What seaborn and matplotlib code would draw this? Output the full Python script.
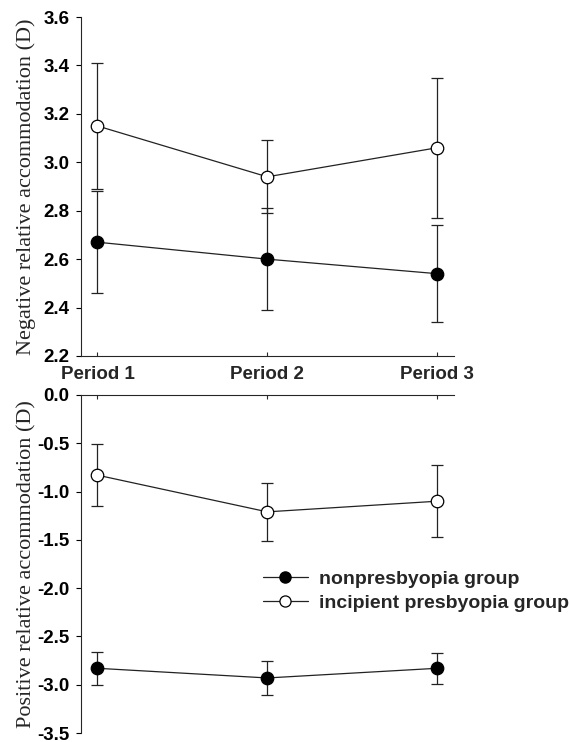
import matplotlib
matplotlib.use("Agg")
import matplotlib.pyplot as plt
from matplotlib.lines import Line2D
import seaborn as sns
import pandas as pd
import numpy as np

periods = ["Period 1", "Period 2", "Period 3"]
groups = ["nonpresbyopia group", "incipient presbyopia group"]

nra_non = [2.67, 2.60, 2.54]
nra_non_err = [0.21, 0.21, 0.20]
nra_inc = [3.15, 2.94, 3.06]
nra_inc_err = [0.26, 0.15, 0.29]

pra_non = [-2.83, -2.93, -2.83]
pra_non_err = [0.17, 0.18, 0.16]
pra_inc = [-0.83, -1.21, -1.10]
pra_inc_err = [0.32, 0.30, 0.37]

top_ticks = [2.2, 2.4, 2.6, 2.8, 3.0, 3.2, 3.4, 3.6]
bot_ticks = [-3.5, -3.0, -2.5, -2.0, -1.5, -1.0, -0.5, 0.0]

sns.set_style("ticks")
plt.rcParams['font.family'] = ['Liberation Sans', 'DejaVu Sans']

TICK_FS = 13.5

fig = plt.figure(figsize=(5.7, 7.42), dpi=100)
ax1 = fig.add_axes([81/570, 1-356/742, 373/570, 339/742])
ax2 = fig.add_axes([81/570, 1-733/742, 373/570, 338/742])

pos = list(range(len(periods)))

def build(vals_non, err_non, vals_inc, err_inc):
    return pd.DataFrame({
        "x": pos + pos,
        "y": list(vals_non) + list(vals_inc),
        "err": list(err_non) + list(err_inc),
        "group": [groups[0]] * 3 + [groups[1]] * 3,
    })

df_top = build(nra_non, nra_non_err, nra_inc, nra_inc_err)
df_bot = build(pra_non, pra_non_err, pra_inc, pra_inc_err)

styles = {
    groups[0]: dict(mfc="black"),
    groups[1]: dict(mfc="white"),
}

for ax, df in [(ax1, df_top), (ax2, df_bot)]:
    for g in groups:
        sub = df[df["group"] == g]
        ax.errorbar(sub["x"], sub["y"], yerr=sub["err"], fmt="none",
                    ecolor="#222222", elinewidth=0.9, capsize=4, capthick=0.9, zorder=2)
        sns.lineplot(data=sub, x="x", y="y", ax=ax, color="#222222", linewidth=0.9,
                     marker="o", markersize=9, markerfacecolor=styles[g]["mfc"],
                     markeredgecolor="black", markeredgewidth=0.9, zorder=3,
                     legend=False, errorbar=None)
    ax.set_xlim(-0.097, 2.1)
    ax.set_xlabel("")
    ax.tick_params(axis="y", direction="out", length=3.5, width=0.8, pad=5,
                   labelsize=TICK_FS, colors="black")
    ax.tick_params(axis="x", direction="in", length=3, width=0.8, labelsize=TICK_FS)

# Top panel
ax1.set_ylim(2.2, 3.6)
ax1.set_yticks(top_ticks)
ax1.set_yticklabels([f"{t:.1f}" for t in top_ticks], fontweight="bold", fontsize=TICK_FS)
ax1.set_xticks(pos)
ax1.set_xticklabels(periods, fontweight="bold", fontsize=TICK_FS)
ax1.tick_params(axis="x", pad=7)
for s in ["top", "right"]:
    ax1.spines[s].set_visible(False)
ax1.spines["left"].set_linewidth(0.8)
ax1.spines["bottom"].set_linewidth(0.8)
ax1.set_ylabel("Negative relative accommodation (D)", family=["Liberation Serif", "DejaVu Serif"],
               fontsize=16)
ax1.yaxis.set_label_coords(-0.12, 0.5)

# Bottom panel
ax2.set_ylim(-3.5, 0.0)
ax2.set_yticks(bot_ticks)
ax2.set_yticklabels([f"{t:.1f}" for t in bot_ticks], fontweight="bold", fontsize=TICK_FS)
ax2.set_xticks(pos)
ax2.xaxis.set_ticks_position("top")
ax2.tick_params(axis="x", labeltop=False, labelbottom=False)
for s in ["bottom", "right"]:
    ax2.spines[s].set_visible(False)
ax2.spines["left"].set_linewidth(0.8)
ax2.spines["top"].set_linewidth(0.8)
ax2.set_ylabel("Positive relative accommodation (D)", family=["Liberation Serif", "DejaVu Serif"],
               fontsize=16)
ax2.yaxis.set_label_coords(-0.12, 0.5)

handles = [
    Line2D([0], [0], color="#222222", lw=0.9, marker="o", markersize=8,
           markerfacecolor="black", markeredgecolor="black"),
    Line2D([0], [0], color="#222222", lw=0.9, marker="o", markersize=8,
           markerfacecolor="white", markeredgecolor="black", markeredgewidth=0.9),
]
leg = fig.legend(handles, groups, loc="center left",
                 bbox_to_anchor=(263/570, 1-591/742), frameon=False,
                 prop={"weight": "bold", "size": 14}, handlelength=2.3,
                 handletextpad=0.6, labelspacing=0.3, borderpad=0, borderaxespad=0)

fig.savefig("out.png", dpi=100)
